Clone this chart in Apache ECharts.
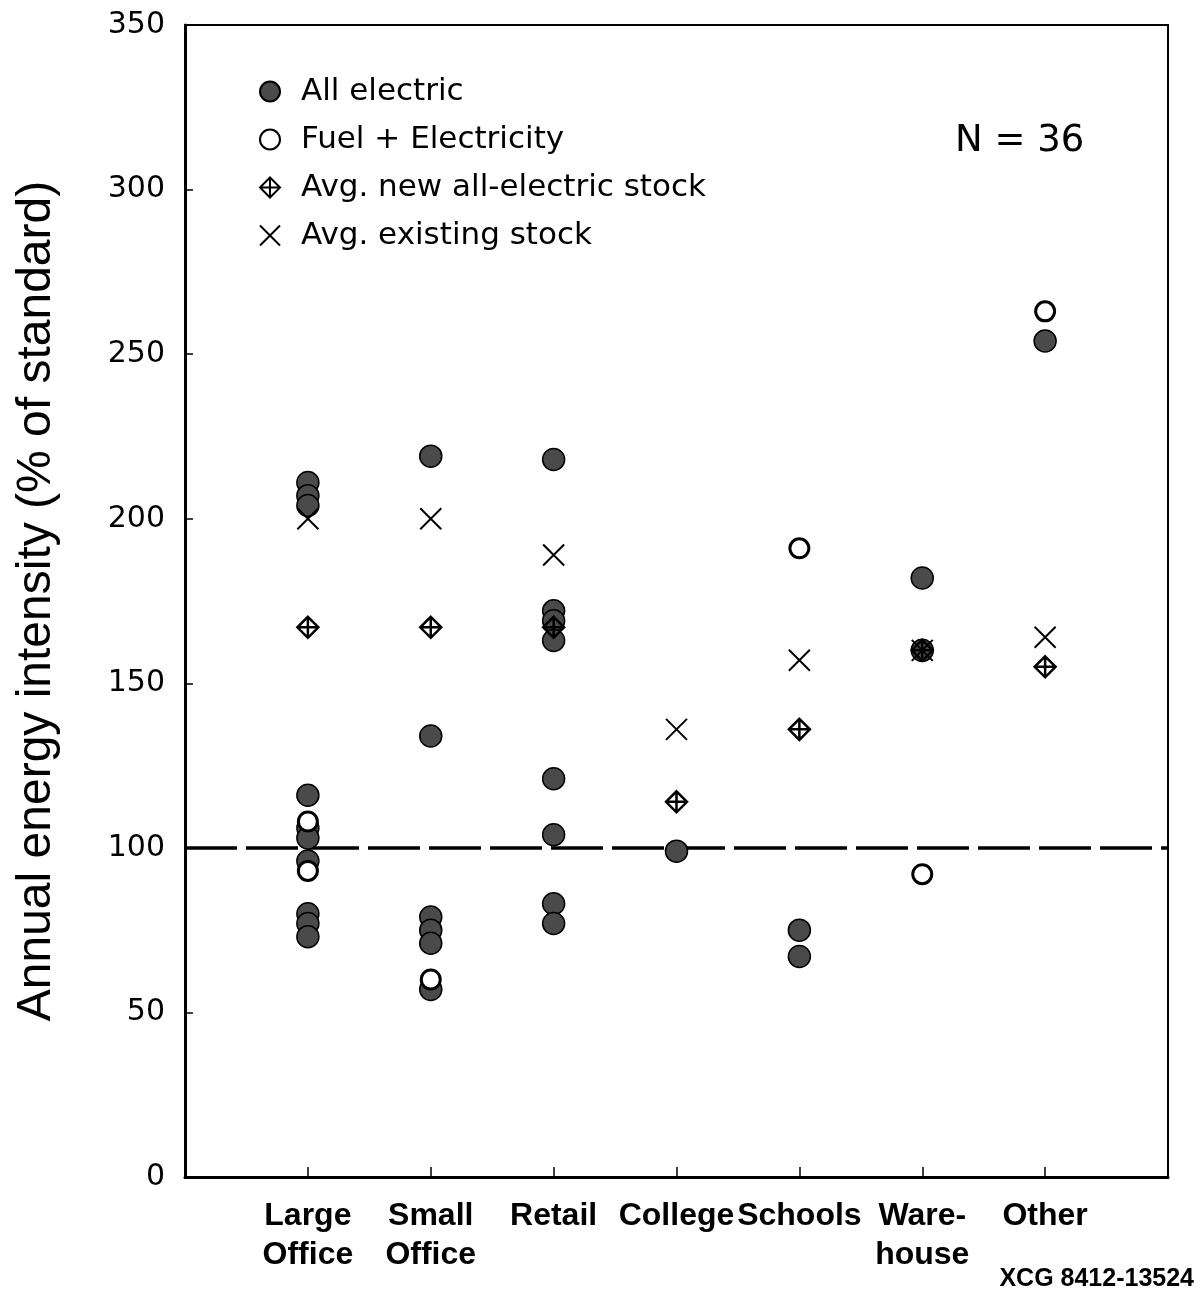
<!DOCTYPE html>
<html>
<head>
<meta charset="utf-8">
<script src="https://cdn.jsdelivr.net/npm/echarts@6/dist/echarts.min.js"></script>
<style>
html, body { margin: 0; padding: 0; background: #fff; }
#chart { width: 1200px; height: 1295px; }
</style>
</head>
<body>
<div id="chart"></div>
<script>
// building types, placed at x = 1..7 on a 0..8 axis
var categories = ['Large\nOffice', 'Small\nOffice', 'Retail', 'College', 'Schools', 'Ware-\nhouse', 'Other'];
var yTicks = [0, 50, 100, 150, 200, 250, 300, 350];

// individual buildings, one list per category
var allElectric = [
	[211, 207, 204, 116, 106, 103, 96, 80, 77, 73],
	[219, 134, 79, 75, 71, 57],
	[218, 172, 169, 163, 121, 104, 83, 77],
	[99],
	[75, 67],
	[182, 160],
	[254]
];
var fuelElectricity = [
	[108, 93],
	[60],
	[],
	[],
	[191],
	[92],
	[263]
];
// one value per category
var avgNewAllElectric = [167, 167, 167, 114, 136, 160, 155];
var avgExisting = [200, 200, 189, 136, 157, 160, 164];
var standardLine = 100;
var buildingCount = 36;

var SANS = '"Liberation Sans", Arial, sans-serif';
var WIDE = '"DejaVu Sans", sans-serif';

function groupPoints(groups){
	var out = [];
	for(var i = 0; i < groups.length; i++){
		for(var j = 0; j < groups[i].length; j++){
			out.push([i + 1, groups[i][j]]);
		}
	}
	return out;
}
function flatPoints(values){
	var out = [];
	for(var i = 0; i < values.length; i++){
		if(values[i] != null) out.push([i + 1, values[i]]);
	}
	return out;
}

var diamondPath = 'path://M0,-10 L10,0 L0,10 L-10,0 Z M0,-10 L0,10 M-10,0 L10,0';
var crossPath = 'path://M-10,-10 L10,10 M10,-10 L-10,10';
var catTicks = categories.map(function(c, i){ return i + 1; });

var option = {
	animation: false,
	backgroundColor: '#fff',
	grid: {
		left: 185, right: 32, top: 25, bottom: 118,
		show: true, borderColor: '#000', borderWidth: 2, backgroundColor: 'transparent'
	},
	legend: {
		orient: 'vertical',
		left: 254, top: 71,
		itemWidth: 20, itemHeight: 20,
		itemGap: 17,
		selectedMode: false,
		textStyle: { fontFamily: WIDE, fontSize: 31, color: '#000', lineHeight: 30, padding: [0, 0, 0, 16] },
		data: ['All electric', 'Fuel + Electricity', 'Avg. new all-electric stock', 'Avg. existing stock']
	},
	xAxis: {
		type: 'value', min: 0, max: 8, interval: 1,
		splitLine: { show: false },
		axisLine: { lineStyle: { color: '#000', width: 3 } },
		axisTick: { inside: true, length: 10, customValues: catTicks, lineStyle: { color: '#000', width: 1.5 } },
		axisLabel: {
			customValues: catTicks,
			margin: 20,
			fontFamily: SANS, fontWeight: 'bold', fontSize: 32, lineHeight: 39, color: '#000',
			formatter: function(v){ return categories[v - 1] || ''; }
		}
	},
	yAxis: {
		type: 'value', min: yTicks[0], max: yTicks[yTicks.length - 1], interval: 50,
		splitLine: { show: false },
		axisLine: { lineStyle: { color: '#000', width: 3 } },
		axisTick: { inside: true, length: 8, lineStyle: { color: '#000', width: 1.5 } },
		axisLabel: { margin: 20, fontFamily: WIDE, fontSize: 30, color: '#000' },
		name: 'Annual energy intensity (% of standard)',
		nameLocation: 'middle',
		nameGap: 124,
		nameTextStyle: { fontFamily: SANS, fontSize: 48, color: '#000' }
	},
	graphic: [
		{ type: 'text', left: 955, top: 123, style: { text: 'N = ' + buildingCount, font: '37px "DejaVu Sans", sans-serif', fill: '#000' } },
		{ type: 'text', right: 6, top: 1267, style: { text: 'XCG 8412-13524', font: 'bold 25px ' + SANS, fill: '#000' } }
	],
	series: [
		{
			name: 'All electric', type: 'scatter', z: 3,
			symbol: 'circle', symbolSize: 22,
			itemStyle: { color: '#4a4a4a', borderColor: '#000', borderWidth: 1.5, opacity: 1 },
			data: groupPoints(allElectric),
			markLine: {
				silent: true, symbol: ['none', 'none'], z: 1,
				label: { show: false },
				lineStyle: { color: '#000', width: 3.5, type: [52, 9] },
				data: [{ yAxis: standardLine }]
			}
		},
		{
			name: 'Fuel + Electricity', type: 'scatter', z: 4,
			symbol: 'circle', symbolSize: 19,
			itemStyle: { color: '#fff', borderColor: '#000', borderWidth: 3, opacity: 1 },
			data: groupPoints(fuelElectricity)
		},
		{
			name: 'Avg. new all-electric stock', type: 'scatter', z: 5,
			symbol: diamondPath, symbolSize: 21,
			itemStyle: { color: 'rgba(0,0,0,0)', borderColor: '#000', borderWidth: 2.5, opacity: 1 },
			data: flatPoints(avgNewAllElectric)
		},
		{
			name: 'Avg. existing stock', type: 'scatter', z: 5,
			symbol: crossPath, symbolSize: 21,
			itemStyle: { color: 'rgba(0,0,0,0)', borderColor: '#000', borderWidth: 2, opacity: 1 },
			data: flatPoints(avgExisting)
		}
	]
};

var chart = echarts.init(document.getElementById('chart'));
chart.setOption(option);
</script>
</body>
</html>
